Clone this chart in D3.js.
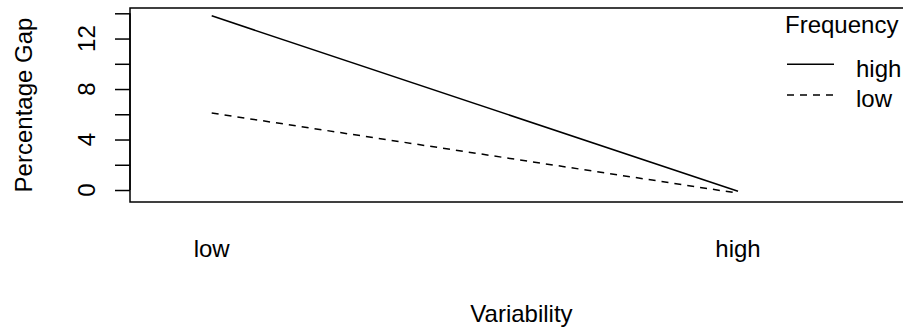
<!DOCTYPE html>
<html>
<head>
<meta charset="utf-8">
<script src="https://cdn.jsdelivr.net/npm/d3@7"></script>
<style>
  html, body { margin: 0; padding: 0; background: #fff; overflow: hidden; }
  text { font-family: "Liberation Sans", Arial, sans-serif; font-size: 24px; fill: #000; }
</style>
</head>
<body>
<svg id="chart" width="903" height="327"></svg>
<script>
// data
let variabilityLevels = ["low", "high"]
let frequencyLevels = ["high", "low"]
let gapHigh = [13.8, -0.1]
let gapLow = [6.1, -0.25]
let yTicks = [0, 2, 4, 6, 8, 10, 12, 14]
let yTickLabels = [0, 4, 8, 12]
let dashes = ["none", "7,6"]

let svg = d3.select("#chart")

let box = { left: 130, right: 913, top: 8, bottom: 202 }

let x = d3.scalePoint()
    .domain(variabilityLevels)
    .range([211.7, 738])

let y = d3.scaleLinear()
    .domain([-0.95, 14.42])
    .range([box.bottom, box.top])

// plot box
svg.append("rect")
    .attr("x", box.left)
    .attr("y", box.top)
    .attr("width", box.right - box.left)
    .attr("height", box.bottom - box.top)
    .attr("fill", "none")
    .attr("stroke", "#000")
    .attr("stroke-width", 1.5)

// y axis: ticks every 2, labels only where R keeps them
let yAxis = d3.axisLeft(y)
    .tickValues(yTicks)
    .tickSize(15)
    .tickFormat("")
let gy = svg.append("g")
    .attr("transform", "translate(" + box.left + ",0)")
    .call(yAxis)
gy.select(".domain")
    .attr("d", "M0," + y(0) + "V" + y(14))
    .attr("stroke", "#000")
    .attr("stroke-width", 1.5)
gy.selectAll(".tick line")
    .attr("stroke", "#000")
    .attr("stroke-width", 1.5)

svg.append("g").selectAll("text")
    .data(yTickLabels)
    .join("text")
    .attr("transform", (d) => "translate(95," + y(d) + ") rotate(-90)")
    .attr("text-anchor", "middle")
    .text((d) => d)

svg.append("text")
    .attr("transform", "translate(32,105) rotate(-90)")
    .attr("text-anchor", "middle")
    .text("Percentage Gap")

// x labels, no tick marks
svg.append("g").selectAll("text")
    .data(variabilityLevels)
    .join("text")
    .attr("x", (d) => x(d))
    .attr("y", 257)
    .attr("text-anchor", "middle")
    .text((d) => d)

svg.append("text")
    .attr("x", (box.left + box.right) / 2)
    .attr("y", 321.5)
    .attr("text-anchor", "middle")
    .text("Variability")

// the two lines
let series = [gapHigh, gapLow]
let line = d3.line()
    .x((d, i) => x(variabilityLevels[i]))
    .y((d) => y(d))

svg.append("g").selectAll("path")
    .data(series)
    .join("path")
    .attr("d", (d) => line(d))
    .attr("fill", "none")
    .attr("stroke", "#000")
    .attr("stroke-width", 1.5)
    .attr("stroke-dasharray", (d, i) => dashes[i])

// legend
let legend = svg.append("g")
legend.append("text")
    .attr("x", 785)
    .attr("y", 33)
    .text("Frequency")

let rows = legend.selectAll("g.row")
    .data(frequencyLevels)
    .join("g")
    .attr("class", "row")
    .attr("transform", (d, i) => "translate(0," + (i * 30.7) + ")")

rows.append("line")
    .attr("x1", 787)
    .attr("x2", 834)
    .attr("y1", 64.3)
    .attr("y2", 64.3)
    .attr("stroke", "#000")
    .attr("stroke-width", 1.5)
    .attr("stroke-dasharray", (d, i) => dashes[i])

rows.append("text")
    .attr("x", 856)
    .attr("y", 76.5)
    .text((d) => d)
</script>
</body>
</html>
